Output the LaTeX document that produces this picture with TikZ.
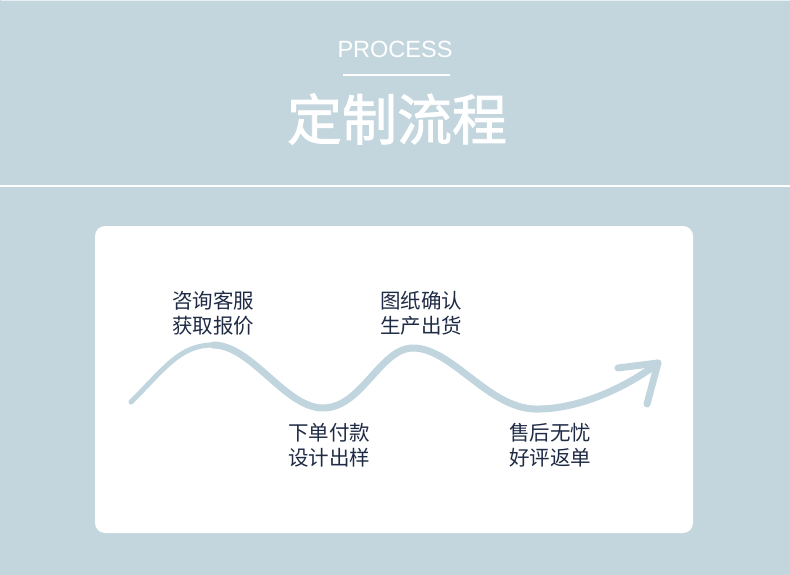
\documentclass[tikz,border=0pt]{standalone}
\usepackage{fontspec}
\setmainfont{Liberation Sans}
\newfontfamily\cjk{Noto Sans CJK SC}
\newfontfamily\cjkm[FakeBold=1.6]{Noto Sans CJK SC}
\definecolor{bgc}{HTML}{C3D6DE}
\definecolor{curvec}{HTML}{C0D5DE}
\definecolor{txtc}{HTML}{1F2B45}
\begin{document}
\begin{tikzpicture}[x=1pt,y=-1pt,
  steplabel/.style={font=\cjk\fontsize{20.5}{25}\selectfont, text=txtc, align=center, inner sep=0pt},
  wave/.style={draw=curvec, line width=7pt, line cap=round, line join=round}]
\useasboundingbox (0,0) rectangle (790,575);
\fill[bgc] (0,0) rectangle (790,575);
\draw[white, line width=2pt] (0,186) -- (790,186);
\draw[white!60!bgc, line width=1pt] (0.5,0.5) -- (789.5,0.5);
% title
\node[font=\fontsize{23.5}{26}\selectfont, text=white, inner sep=0pt] (proc) at (395,49) {PROCESS};
\coordinate (ul) at (343,75);
\coordinate (ur) at (450,75);
\draw[white, line width=1.5pt] (ul) -- (ur);
\node[font=\cjkm\fontsize{55}{60}\selectfont, text=white, inner sep=0pt] (title) at (397,119) {定制流程};
% card
\fill[white, rounded corners=10pt] (95,226) rectangle (693,533);
% wave
\coordinate (s) at (131,402);
\coordinate (p1) at (213,345);
\coordinate (t1) at (323,408);
\coordinate (p2) at (413,348);
\coordinate (t2) at (535,409);
\coordinate (tip) at (658,363);
\coordinate (b1) at (618,368);
\coordinate (b2) at (647,404);
\draw[draw=curvec, line width=5pt, line cap=round] (s) .. controls (165,368) and (180,345) .. (p1);
\draw[wave] (p1)
  .. controls (252,345) and (285,408) .. (t1)
  .. controls (362,408) and (380,348) .. (p2)
  .. controls (452,348) and (488,408) .. (t2)
  .. controls (580,410) and (630,385) .. (tip);
\draw[wave] (b1) -- (tip) -- (b2);
% labels
\node[steplabel] (l1) at (213,313) {咨询客服\\获取报价};
\node[steplabel] (l2) at (421,313) {图纸确认\\生产出货};
\node[steplabel] (l3) at (329,445) {下单付款\\设计出样};
\node[steplabel] (l4) at (550,445) {售后无忧\\好评返单};
\end{tikzpicture}
\end{document}
